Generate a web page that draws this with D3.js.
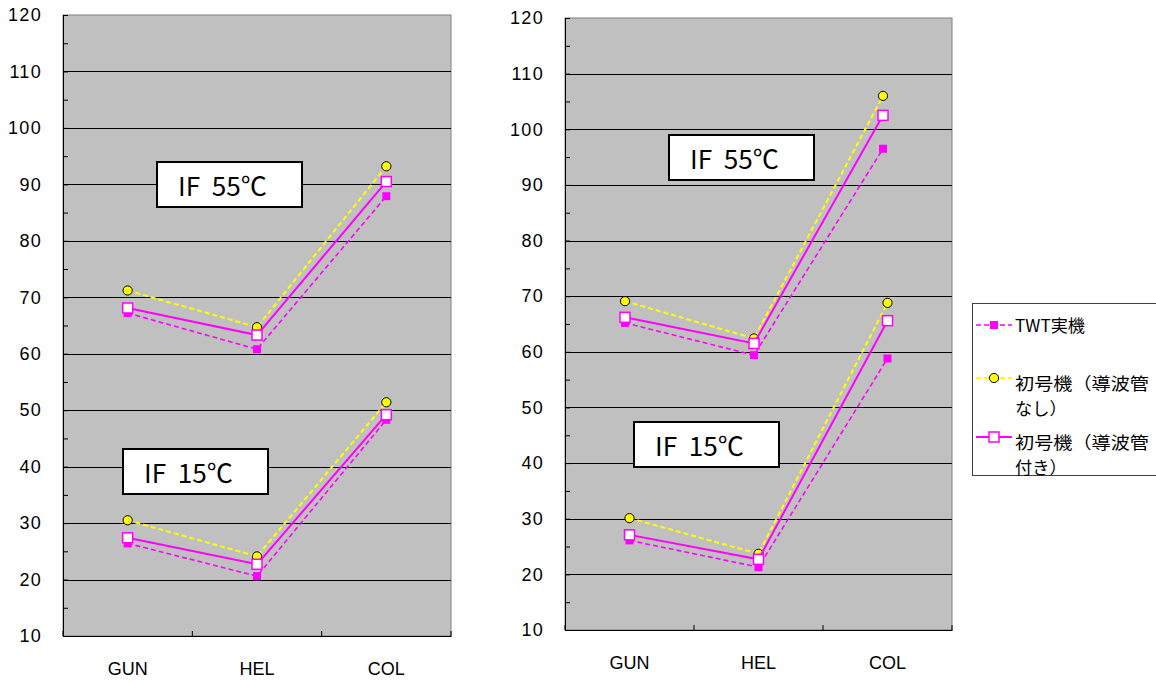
<!DOCTYPE html>
<html>
<head>
<meta charset="utf-8">
<script src="https://cdn.jsdelivr.net/npm/d3@7"></script>
<style>
  body { margin: 0; background: #fff; }
  svg { display: block; }
</style>
</head>
<body>
<script>
// === data ===
const categories = ["GUN", "HEL", "COL"];
const yTickValues = [10, 20, 30, 40, 50, 60, 70, 80, 90, 100, 110, 120];
const seriesNames = ["TWT実機", "初号機（導波管なし）", "初号機（導波管付き）"];

// left chart
const left55TWT = [67.2, 60.8, 87.9];
const left55None = [71.2, 64.7, 93.2];
const left55Guide = [68.1, 63.3, 90.5];
const left15TWT = [26.4, 20.6, 48.3];
const left15None = [30.5, 24.1, 51.4];
const left15Guide = [27.4, 22.7, 49.2];

// right chart
const right55TWT = [65.2, 59.4, 96.5];
const right55None = [69.1, 62.4, 106.0];
const right55Guide = [66.2, 61.5, 102.5];
const right15TWT = [26.1, 21.3, 58.8];
const right15None = [30.1, 23.7, 68.8];
const right15Guide = [27.1, 22.7, 65.6];

const labels = ["IF  55℃", "IF  15℃"];

// === layout ===
const W = 1156, H = 682;
const magenta = "#FF00FF", yellow = "#FFFF00";

const svg = d3.select("body").append("svg")
    .attr("width", W)
    .attr("height", H);

svg.append("rect").attr("width", W).attr("height", H).attr("fill", "#fff");

const panels = [
  { x0: 63, x1: 451, y0: 15, y1: 636, hotShift: 0,
    groups: [[left55TWT, left55None, left55Guide], [left15TWT, left15None, left15Guide]],
    boxes: [{ x: 157, y: 162 }, { x: 123, y: 449 }] },
  { x0: 565, x1: 952, y0: 18, y1: 630, hotShift: -4.5,
    groups: [[right55TWT, right55None, right55Guide], [right15TWT, right15None, right15Guide]],
    boxes: [{ x: 669, y: 135 }, { x: 634, y: 422 }] }
];

// series styles: TWT dashed + filled square, none dashed yellow + circle, guide solid + open square
const styles = [
  { stroke: magenta, dash: "5,3", width: 1.6 },
  { stroke: yellow, dash: "5,3", width: 2 },
  { stroke: magenta, dash: null, width: 2 }
];

function marker(g, kind, cx, cy) {
  if (kind === 0) {
    g.append("rect").attr("x", cx - 4).attr("y", cy - 4)
      .attr("width", 8).attr("height", 8).attr("fill", magenta);
  } else if (kind === 1) {
    g.append("circle").attr("cx", cx).attr("cy", cy).attr("r", 4.6)
      .attr("fill", yellow).attr("stroke", "#000").attr("stroke-width", 1);
  } else {
    g.append("rect").attr("x", cx - 5).attr("y", cy - 5)
      .attr("width", 10).attr("height", 10)
      .attr("fill", "#fff").attr("stroke", magenta).attr("stroke-width", 1.5);
  }
}

panels.forEach(p => {
  const x = d3.scaleBand().domain(categories).range([p.x0, p.x1]);
  const y = d3.scaleLinear().domain([10, 120]).range([p.y1, p.y0]);
  const cx = c => x(c) + x.bandwidth() / 2;

  const g = svg.append("g");

  // plot area
  g.append("rect")
    .attr("x", p.x0).attr("y", p.y0)
    .attr("width", p.x1 - p.x0).attr("height", p.y1 - p.y0)
    .attr("fill", "#C0C0C0").attr("stroke", "#808080").attr("stroke-width", 1);

  // gridlines
  g.append("g").selectAll("line")
    .data(yTickValues.filter(v => v > 10 && v < 120))
    .join("line")
    .attr("x1", p.x0).attr("x2", p.x1)
    .attr("y1", d => Math.round(y(d)) + 0.5).attr("y2", d => Math.round(y(d)) + 0.5)
    .attr("stroke", "#000").attr("stroke-width", 1);

  // y axis (ticks inside)
  const yAxis = g.append("g")
    .attr("transform", `translate(${p.x0},0)`)
    .call(d3.axisLeft(y).tickValues(yTickValues).tickSizeInner(-5).tickSizeOuter(0).tickPadding(21));
  yAxis.selectAll("text")
    .attr("font-family", "Liberation Sans, Arial, sans-serif")
    .attr("font-size", 18).attr("letter-spacing", "1.3px").attr("fill", "#000");
  yAxis.select(".domain").attr("stroke", "#000");

  // minor ticks
  g.append("g")
    .attr("transform", `translate(${p.x0},0)`)
    .call(d3.axisLeft(y).tickValues(d3.range(15, 120, 10)).tickSize(-5).tickFormat(""))
    .select(".domain").remove();

  // x axis
  const xAxis = g.append("g")
    .attr("transform", `translate(0,${p.y1})`)
    .call(d3.axisBottom(x).tickSize(0).tickPadding(26));
  xAxis.selectAll("text")
    .attr("font-family", "Liberation Sans, Arial, sans-serif")
    .attr("font-size", 18).attr("fill", "#000");
  xAxis.select(".domain").attr("stroke", "#000");
  g.append("g").selectAll("line")
    .data(categories.map(c => x(c)).concat([p.x1]))
    .join("line")
    .attr("x1", d => d).attr("x2", d => d)
    .attr("y1", p.y1).attr("y2", p.y1 - 5)
    .attr("stroke", "#000");

  // annotation boxes
  p.boxes.forEach((b, i) => {
    g.append("rect")
      .attr("x", b.x).attr("y", b.y).attr("width", 145).attr("height", 45)
      .attr("fill", "#fff").attr("stroke", "#000").attr("stroke-width", 2);
    g.append("text")
      .attr("x", b.x + 21).attr("y", b.y + 34)
      .attr("font-family", "Noto Sans CJK JP, sans-serif")
      .attr("font-size", 26)
      .attr("fill", "#000")
      .attr("textLength", 89).attr("lengthAdjust", "spacingAndGlyphs")
      .text(labels[i].replace(/ /g, "\u00A0"));
  });

  // series
  p.groups.forEach((grp, gi) => {
    const shift = gi === 0 ? p.hotShift : 0;
    const sg = g.append("g").attr("transform", `translate(${shift},0)`);
    grp.forEach((vals, si) => {
      const s = styles[si];
      const line = d3.line()
        .x((d, i) => cx(categories[i]))
        .y(d => y(d));
      sg.append("path")
        .datum(vals)
        .attr("d", line)
        .attr("fill", "none")
        .attr("stroke", s.stroke)
        .attr("stroke-width", s.width)
        .attr("stroke-dasharray", s.dash);
      vals.forEach((v, i) => marker(sg, si, cx(categories[i]), y(v)));
    });
  });
});

// === legend ===
const lg = svg.append("g");
lg.append("rect")
  .attr("x", 972.5).attr("y", 303.5).attr("width", 200).attr("height", 172)
  .attr("fill", "#fff").attr("stroke", "#404040").attr("stroke-width", 1);

const legendRows = [
  { sy: 325, lines: [seriesNames[0]] },
  { sy: 378, lines: ["初号機（導波管", "なし）"] },
  { sy: 437, lines: ["初号機（導波管", "付き）"] }
];
legendRows.forEach((r, i) => {
  const s = styles[i];
  lg.append("line")
    .attr("x1", 976).attr("x2", 1012).attr("y1", r.sy).attr("y2", r.sy)
    .attr("stroke", s.stroke).attr("stroke-width", s.width)
    .attr("stroke-dasharray", s.dash);
  marker(lg, i, 994, r.sy);
  r.lines.forEach((ln, k) => {
    const t = lg.append("text")
      .attr("x", 1015)
      .attr("y", r.sy + (i === 0 ? 7 : 12) + k * 25)
      .attr("font-family", "Noto Sans CJK JP, sans-serif")
      .attr("font-size", 17.2).attr("fill", "#000")
      .text(ln);
    if (ln.length === 7) t.attr("textLength", 134).attr("lengthAdjust", "spacingAndGlyphs");
  });
});
</script>
</body>
</html>
